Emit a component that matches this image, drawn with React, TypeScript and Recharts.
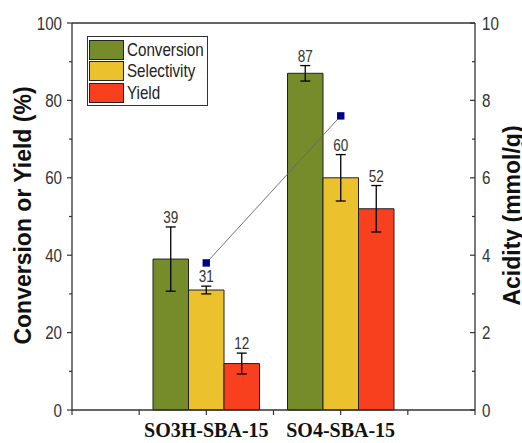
import React from "react";
import {
  ComposedChart,
  Bar,
  Line,
  XAxis,
  YAxis,
  ErrorBar,
  LabelList,
  Legend,
  ReferenceLine,
  Label,
} from "recharts";

const categories = ["SO3H-SBA-15", "SO4-SBA-15"];
const conversion = [39, 87];
const conversionErr = [8.3, 2];
const selectivity = [31, 60];
const selectivityErr = [1, 6];
const yieldVals = [12, 52];
const yieldErr = [2.7, 6];
const acidity = [3.8, 7.6];
const leftTicks = [0, 10, 20, 30, 40, 50, 60, 70, 80, 90, 100];
const rightTicks = [0, 1, 2, 3, 4, 5, 6, 7, 8, 9, 10];
const slotTicks = [0, 1, 2, 3, 4, 5, 6];

const data = categories.map((name, i) => ({
  name,
  slot: 2 * (i + 1),
  conversion: conversion[i],
  conversionErr: conversionErr[i],
  selectivity: selectivity[i],
  selectivityErr: selectivityErr[i],
  yield: yieldVals[i],
  yieldErr: yieldErr[i],
  acidity: acidity[i],
}));

const SANS = "'Liberation Sans', Arial, sans-serif";
const SERIF = "'Liberation Serif', 'Times New Roman', serif";
const AXIS = "#333";
const SQUEEZE = 0.82;

const GREEN = "#768B2A";
const YELLOW = "#ECC12E";
const RED = "#F8401F";

const NarrowText = (props: any) => {
  const { x, y, children, anchor = "start", size = 18.5, dy = "0" } = props;
  return (
    <g transform={`translate(${x}, ${y}) scale(${SQUEEZE}, 1)`}>
      <text x={0} y={0} dy={dy} textAnchor={anchor} fontSize={size} fontFamily={SANS} fill="#333">
        {children}
      </text>
    </g>
  );
};

const LeftTick = (props: any) => {
  const { x, y, payload } = props;
  const v = payload.value;
  const major = v % 20 === 0;
  return (
    <g>
      <line x1={x} x2={x - (major ? 5 : 3)} y1={y} y2={y} stroke={AXIS} strokeWidth={1.2} />
      {major && (
        <NarrowText x={x - 10} y={y} dy="0.36em" anchor="end">
          {v}
        </NarrowText>
      )}
    </g>
  );
};

const RightTick = (props: any) => {
  const { x, y, payload } = props;
  const v = payload.value;
  const major = v % 2 === 0;
  return (
    <g>
      <line x1={x} x2={x - (major ? 5 : 3)} y1={y} y2={y} stroke={AXIS} strokeWidth={1.2} />
      {major && (
        <NarrowText x={x + 7} y={y} dy="0.36em" anchor="start">
          {v}
        </NarrowText>
      )}
    </g>
  );
};

const BottomTick = (props: any) => {
  const { x, y, payload } = props;
  const v = payload.value;
  const idx = data.findIndex((d) => d.slot === v);
  return (
    <g>
      <line x1={x} x2={x} y1={y} y2={y + 5} stroke={AXIS} strokeWidth={1.2} />
      {idx >= 0 && (
        <text x={x} y={y + 27} textAnchor="middle" fontSize={20} fontWeight="bold" fontFamily={SERIF} fill="#111">
          {categories[idx]}
        </text>
      )}
    </g>
  );
};

const makeValueLabel = (errs: number[]) => (props: any) => {
  const { x, y, width, height, value, index } = props;
  const top = Number(y) - (errs[index] * Number(height)) / Number(value);
  return (
    <NarrowText x={Number(x) + Number(width) / 2} y={top - 4} anchor="middle" size={16.5}>
      {value}
    </NarrowText>
  );
};

const SquareDot = (props: any) => {
  const { cx, cy } = props;
  if (cx == null || cy == null) return null;
  return <rect x={cx - 3.7} y={cy - 3.7} width={7.4} height={7.4} fill="#00008B" />;
};

const LegendContent = (props: any) => {
  const items = (props.payload || []).filter((p: any) => p.dataKey !== "acidity");
  return (
    <div
      style={{
        border: "1px solid #333",
        background: "#fff",
        padding: "2px 1px 1px 1px",
        fontFamily: SANS,
        fontSize: 18.5,
        color: "#222",
        lineHeight: "20px",
        boxSizing: "border-box",
        width: 121,
      }}
    >
      {items.map((it: any) => (
        <div key={it.value} style={{ display: "flex", alignItems: "center", height: 21.5 }}>
          <div
            style={{
              width: 35,
              height: 20,
              background: it.color,
              border: "1px solid #222",
              marginRight: 3,
              boxSizing: "border-box",
              flex: "0 0 auto",
            }}
          />
          <span
            style={{
              display: "inline-block",
              transform: `scaleX(${SQUEEZE})`,
              transformOrigin: "left center",
              whiteSpace: "nowrap",
            }}
          >
            {it.value}
          </span>
        </div>
      ))}
    </div>
  );
};

const LeftTitle = (props: any) => {
  const vb = props.viewBox || {};
  const x = vb.x + 31;
  const y = vb.y + vb.height / 2 - 1;
  return (
    <text
      x={x}
      y={y}
      transform={`rotate(-90, ${x}, ${y})`}
      textAnchor="middle"
      fontSize={23}
      fontWeight="bold"
      fontFamily={SANS}
      fill="#111"
    >
      Conversion or Yield (%)
    </text>
  );
};

const RightTitle = (props: any) => {
  const vb = props.viewBox || {};
  const x = vb.x + 45;
  const y = vb.y + vb.height / 2 - 1;
  return (
    <text
      x={x}
      y={y}
      transform={`rotate(-90, ${x}, ${y})`}
      textAnchor="middle"
      fontSize={23}
      fontWeight="bold"
      fontFamily={SANS}
      fill="#111"
    >
      Acidity (mmol/g)
    </text>
  );
};

export default function App() {
  return (
    <div style={{ position: "absolute", left: 0, top: 0, background: "#fff" }}>
      <ComposedChart
        width={522}
        height={443}
        data={data}
        margin={{ top: 23, right: 0, bottom: 0, left: 0 }}
        barGap={0}
      >
        <XAxis
          xAxisId="num"
          dataKey="slot"
          type="number"
          domain={[0, 6]}
          ticks={slotTicks}
          allowDataOverflow
          height={33}
          tickSize={0}
          tickMargin={0}
          tickLine={false}
          axisLine={{ stroke: AXIS, strokeWidth: 1.3 }}
          tick={<BottomTick />}
          interval={0}
        />
        <XAxis
          xAxisId="cat"
          dataKey="name"
          type="category"
          hide
          height={0}
          padding={{ left: 67, right: 67 }}
        />
        <YAxis
          yAxisId="left"
          orientation="left"
          domain={[0, 100]}
          ticks={leftTicks}
          width={72}
          tickSize={0}
          tickMargin={0}
          tickLine={false}
          axisLine={{ stroke: AXIS, strokeWidth: 1.3 }}
          tick={<LeftTick />}
          interval={0}
        >
          <Label content={<LeftTitle />} />
        </YAxis>
        <YAxis
          yAxisId="right"
          orientation="right"
          domain={[0, 10]}
          ticks={rightTicks}
          width={47}
          tickSize={0}
          tickMargin={0}
          tickLine={false}
          axisLine={{ stroke: AXIS, strokeWidth: 1.3 }}
          tick={<RightTick />}
          interval={0}
        >
          <Label content={<RightTitle />} />
        </YAxis>
        <ReferenceLine yAxisId="left" xAxisId="cat" y={100} stroke={AXIS} strokeWidth={1.3} />
        <Legend
          layout="vertical"
          align="center"
          verticalAlign="middle"
          content={<LegendContent />}
          wrapperStyle={{ left: 87, top: 36, width: 121, height: "auto" }}
        />
        <Bar
          xAxisId="cat"
          yAxisId="left"
          dataKey="conversion"
          name="Conversion"
          fill={GREEN}
          stroke="#222"
          strokeWidth={1}
          barSize={35.5}
          isAnimationActive={false}
        >
          <ErrorBar dataKey="conversionErr" width={5} stroke="#000" strokeWidth={1.3} direction="y" />
          <LabelList dataKey="conversion" content={makeValueLabel(conversionErr)} />
        </Bar>
        <Bar
          xAxisId="cat"
          yAxisId="left"
          dataKey="selectivity"
          name="Selectivity"
          fill={YELLOW}
          stroke="#222"
          strokeWidth={1}
          barSize={35.5}
          isAnimationActive={false}
        >
          <ErrorBar dataKey="selectivityErr" width={5} stroke="#000" strokeWidth={1.3} direction="y" />
          <LabelList dataKey="selectivity" content={makeValueLabel(selectivityErr)} />
        </Bar>
        <Bar
          xAxisId="cat"
          yAxisId="left"
          dataKey="yield"
          name="Yield"
          fill={RED}
          stroke="#222"
          strokeWidth={1}
          barSize={35.5}
          isAnimationActive={false}
        >
          <ErrorBar dataKey="yieldErr" width={5} stroke="#000" strokeWidth={1.3} direction="y" />
          <LabelList dataKey="yield" content={makeValueLabel(yieldErr)} />
        </Bar>
        <Line
          xAxisId="cat"
          yAxisId="right"
          dataKey="acidity"
          name="Acidity"
          type="linear"
          stroke="#666"
          strokeWidth={0.9}
          dot={<SquareDot />}
          activeDot={false}
          legendType="none"
          isAnimationActive={false}
        />
      </ComposedChart>
    </div>
  );
}
